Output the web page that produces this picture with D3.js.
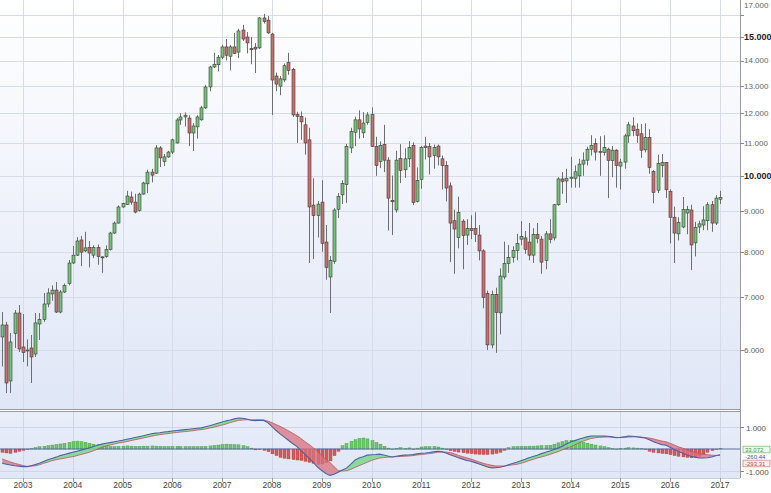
<!DOCTYPE html>
<html><head><meta charset="utf-8">
<script src="https://cdn.jsdelivr.net/npm/d3@7"></script>
<style>body{margin:0;background:#fff}svg{display:block;font-family:"Liberation Sans",Arial,sans-serif}</style>
</head><body><svg id="c" width="771" height="493"></svg>
<script>
const startMonth = "2002-08";
const open = [6233,6456,5480,6300,6686,6053,5990,6035,5930,6475,
6560,6865,7070,7150,6705,7110,7290,7740,7920,8280,
8020,8100,7920,8100,7880,7890,8050,8450,8700,9120,
9190,9390,9250,9030,9470,9760,10100,10070,10840,10420,
10560,10710,11000,11765,11870,11830,11325,11530,11770,12190,
12960,13740,13830,14140,14570,14180,14570,14350,15310,15000,
14500,14560,14530,15860,15760,15130,13380,12990,13230,13920,
13640,11950,11880,11600,11100,9170,8890,9250,8230,7430,
7780,9060,9450,9740,10840,11350,11770,11330,11680,11950,
10890,10420,10950,10460,9300,9040,10510,10170,10500,10920,
9270,9880,10900,10880,10600,10900,10500,10300,9700,8760,
8340,8750,8400,8560,8560,8400,8020,7080,6090,7060,
6690,7430,7730,7870,8030,8300,8330,8230,7920,8420,
8300,7800,8430,8330,9180,9900,9840,9920,9920,9990,
10340,10460,10800,10980,10700,10700,10800,10450,10770,10280,
10400,11230,11560,11450,11300,10780,11180,10120,9580,10300,
10390,9550,8850,8430,8600,8960,9040,8210,8600,8650,
8760,9180,8700,9330];
const high = [6705,6515,6306,6745,6845,6667,6190,6270,6686,6686,
7090,7190,7250,7320,7150,7290,7810,8136,8350,8380,
8480,8256,8150,8170,7900,8150,8480,8740,9160,9230,
9560,9540,9480,9510,9820,10170,10200,10930,10900,10650,
10750,11140,11830,12000,12030,11930,11660,11930,12260,13030,
13790,14320,14230,14660,14910,14650,15180,15360,15540,15220,
15000,14740,15900,16050,15950,15180,13520,13380,13880,14320,
13700,12050,12060,11850,11500,9920,9280,9860,8650,7900,
9090,9500,9860,10970,11500,11880,12100,12040,12040,12210,
11200,11050,11600,10550,10000,10750,10960,10830,11060,11020,
10240,10900,11200,11000,10950,10950,10600,10430,9800,9050,
9400,8800,8800,8900,8980,8650,8060,7140,7140,7200,
7620,8240,8160,8130,8430,8750,8500,8700,8570,8700,
8380,8500,8800,9200,9950,10100,10200,10560,10300,10500,
10700,10880,11250,11150,11220,11250,10850,10900,10800,10500,
11300,11700,11860,11650,11630,11650,11450,10160,10630,10650,
10400,9600,9130,8850,9390,9150,9180,8730,8760,9140,
9250,9280,9440,9560];
const low = [5717,5290,5290,6036,5965,5793,5720,5448,5879,6179,
6515,6800,6930,6686,6680,7090,7250,7720,7900,7670,
7990,7640,7850,7700,7520,7860,8030,8430,8690,9100,
9180,9180,8950,9000,9460,9500,9800,10050,10250,10280,
10530,10650,10980,11600,11540,10900,10740,11140,11740,12150,
12800,13700,13560,14060,14000,13600,14270,14100,14830,14300,
13850,13500,14480,15600,15140,11940,12800,12650,13150,13430,
11870,11000,11100,10630,7740,7830,8340,8000,7370,6686,
7720,8830,9200,9230,10680,10900,11140,11160,11600,10870,
9990,10220,10100,8510,8400,8970,9780,9930,10250,9170,
9240,9620,10480,10030,10200,10300,9600,9270,7760,7500,
8080,7600,8160,8300,8230,7800,6780,6000,6030,5950,
6280,7380,7520,7750,7800,8150,7950,7800,7740,8200,
7500,7600,8200,8270,9150,9480,9230,9650,9650,9650,
9990,10300,10600,10450,9990,10600,9360,9950,9650,9600,
10200,11000,11220,11000,10530,10700,10050,9220,9500,9950,
9360,8200,7740,8270,8570,8420,7580,7890,8450,8520,
8520,8480,8650,9200];
const close = [6456,5448,6143,6686,6018,5955,6000,5879,6495,6560,
6865,7090,7150,6705,7110,7250,7740,7920,8256,7990,
8090,7970,8100,7890,7860,8050,8450,8700,9120,9210,
9417,9250,8985,9470,9783,10100,10010,10840,10530,10560,
10710,11100,11765,11870,11930,11325,11560,11870,12190,12957,
13740,13850,14140,14570,14220,14570,14300,15270,14910,14740,
14450,14480,15860,15700,15180,13225,13070,13270,13790,13600,
11940,11880,11700,11000,9120,8890,9195,8200,7640,7800,
9040,9410,9770,10890,11370,11770,11460,11660,11940,10890,
10300,10920,10460,9360,9260,10460,10150,10500,10850,9240,
9860,10850,10850,10560,10850,10560,10300,9640,8700,8550,
8980,8390,8560,8510,8420,8020,7000,6090,7060,6700,
7450,7730,7870,8030,8200,8360,8050,7920,8420,8320,
7760,8430,8290,9180,9900,9830,9920,9950,10110,10340,
10460,10800,10920,10710,10730,10850,10450,10770,10300,10400,
11230,11600,11400,11250,10770,11180,10240,9520,10360,10390,
9590,8850,8450,8720,9050,9050,8160,8590,8680,8780,
9180,8700,9360,9380];
const macd = [-650,-690,-730,-760,-780,-800,-800,-760,-710,-650,
-570,-490,-430,-370,-300,-250,-200,-150,-100,-50,
0,50,110,170,220,260,290,330,360,400,
440,480,520,560,600,650,690,720,740,770,
790,820,840,860,880,900,920,940,960,1010,
1060,1110,1170,1230,1280,1320,1370,1410,1400,1360,
1310,1290,1310,1300,1200,1030,840,690,540,400,
250,120,-60,-250,-420,-620,-820,-980,-1120,-1200,
-1150,-1060,-950,-870,-700,-510,-410,-350,-280,-260,
-250,-235,-270,-320,-360,-330,-300,-280,-270,-250,
-220,-190,-180,-160,-130,-100,-120,-180,-260,-330,
-400,-460,-520,-560,-620,-680,-750,-820,-860,-850,
-830,-780,-720,-660,-600,-530,-470,-400,-340,-280,
-210,-150,-90,-20,40,130,230,320,380,440,
500,550,590,590,590,585,580,550,510,530,
560,590,580,560,530,500,420,330,260,200,
170,80,-20,-110,-180,-260,-330,-370,-410,-410,
-400,-360,-310,-260.44];
const signal = [-450,-520,-590,-650,-700,-750,-790,-780,-760,-720,
-650,-600,-530,-490,-450,-420,-380,-350,-300,-250,
-200,-150,-80,0,70,130,180,230,270,300,
340,380,420,460,500,540,580,620,650,680,
700,730,750,770,790,810,830,860,880,910,
950,990,1040,1090,1140,1200,1250,1300,1320,1330,
1330,1330,1325,1320,1270,1200,1110,1030,930,830,
720,610,480,330,200,50,-100,-300,-460,-600,
-800,-980,-1000,-990,-930,-840,-760,-680,-600,-520,
-460,-410,-390,-370,-360,-350,-340,-330,-320,-300,
-270,-250,-230,-210,-180,-150,-140,-140,-160,-220,
-290,-350,-400,-460,-520,-590,-650,-700,-740,-770,
-770,-770,-750,-720,-700,-650,-590,-530,-470,-410,
-360,-310,-250,-180,-120,-40,40,100,190,270,
350,420,480,510,530,540,545,540,530,520,
520,540,550,550,540,520,500,460,410,360,
330,260,180,100,40,-30,-100,-160,-200,-240,
-260,-280,-290,-293.31];
const hist = [-150,-180,-200,-150,-100,-60,-30,20,60,100,
120,150,180,200,230,260,300,340,360,330,
300,260,220,200,180,150,120,110,120,130,
140,130,120,120,130,130,140,130,120,110,
110,120,120,110,110,100,110,100,110,120,
140,160,180,200,220,210,200,190,150,100,
40,-40,-20,-60,-120,-220,-300,-380,-420,-450,
-480,-500,-520,-560,-600,-650,-700,-680,-620,-540,
-300,-100,150,250,350,420,480,500,460,380,
300,220,120,40,0,30,60,20,50,-10,
40,90,100,100,110,90,40,-30,-80,-110,
-140,-170,-190,-210,-230,-240,-250,-250,-230,-200,
-150,-60,60,100,110,120,120,130,130,140,
150,160,170,220,280,330,380,400,380,350,
300,260,220,180,140,100,60,20,0,20,
40,60,50,40,20,-20,-100,-150,-180,-200,
-220,-260,-300,-330,-360,-380,-400,-380,-330,-250,
-150,-70,-20,33.072];
const years = [2003,2004,2005,2006,2007,2008,2009,2010,2011,2012,2013,2014,2015,2016,2017];
const priceTicks = [6000,7000,8000,9000,10000,11000,12000,13000,14000,15000,16000,17000];
const priceLabelTicks = [6000,7000,8000,9000,10000,11000,12000,13000,14000,15000,17000];
const majorPriceTicks = [10000,15000];
const macdTicks = [1000,-1000];

const loc = d3.formatLocale({decimal:",",thousands:".",grouping:[3],currency:["",""],minus:"-"});
const fmtPriceLbl = v => loc.format(",")(v);
const locDot = d3.formatLocale({decimal:".",thousands:",",grouping:[3],currency:["",""],minus:"-"});
const fmtTag = locDot.format(".5");

const svg = d3.select("#c");
const plotR = 740, mainTop = 0, mainBot = 409, macdTop = 412, macdBot = 478;

const parse = d3.timeParse("%Y-%m");
const t0 = parse(startMonth);
const dates = d3.timeMonth.range(t0, d3.timeMonth.offset(t0, close.length));

const x = d3.scaleTime().domain([new Date(2003,0,1), new Date(2017,0,1)]).range([23,720]);
const y = d3.scaleLog().domain([6000,15000]).range([350,37]);
const ym = d3.scaleLinear().domain([-1000,1000]).range([471,427]);

const defs = svg.append("defs");
const g1 = defs.append("linearGradient").attr("id","bgMain").attr("x1",0).attr("y1",0).attr("x2",0).attr("y2",1);
g1.append("stop").attr("offset","0%").attr("stop-color","#ffffff");
g1.append("stop").attr("offset","100%").attr("stop-color","#dfe6f6");
const g2 = defs.append("linearGradient").attr("id","bgMacd").attr("x1",0).attr("y1",0).attr("x2",0).attr("y2",1);
g2.append("stop").attr("offset","0%").attr("stop-color","#e9eef9");
g2.append("stop").attr("offset","100%").attr("stop-color","#dfe6f5");
defs.append("clipPath").attr("id","clipMain").append("rect").attr("x",0).attr("y",mainTop).attr("width",plotR).attr("height",mainBot-mainTop);
defs.append("clipPath").attr("id","clipMacd").append("rect").attr("x",0).attr("y",macdTop).attr("width",plotR).attr("height",macdBot-macdTop);

const areaAbove = d3.area().x((d,i)=>x(dates[i])).y0(macdTop-50).y1((d)=>ym(d));
const areaBelow = d3.area().x((d,i)=>x(dates[i])).y0(macdBot+50).y1((d)=>ym(d));
defs.append("clipPath").attr("id","clipAbove").append("path").attr("d", areaAbove(signal));
defs.append("clipPath").attr("id","clipBelow").append("path").attr("d", areaBelow(signal));

svg.append("rect").attr("x",0).attr("y",0).attr("width",771).attr("height",493).attr("fill","#ffffff");
svg.append("rect").attr("x",0).attr("y",mainTop).attr("width",plotR).attr("height",mainBot-mainTop).attr("fill","url(#bgMain)");
svg.append("rect").attr("x",0).attr("y",macdTop).attr("width",plotR).attr("height",macdBot-macdTop).attr("fill","url(#bgMacd)");

const gm = svg.append("g").attr("clip-path","url(#clipMain)");
gm.selectAll("line.h").data(priceTicks).join("line")
  .attr("x1",0).attr("x2",plotR).attr("y1",d=>Math.round(y(d))+0.5).attr("y2",d=>Math.round(y(d))+0.5)
  .attr("stroke","#d6dcea").attr("stroke-width",1);
gm.selectAll("line.v").data(years).join("line")
  .attr("x1",d=>Math.round(x(new Date(d,0,1)))+0.5).attr("x2",d=>Math.round(x(new Date(d,0,1)))+0.5)
  .attr("y1",mainTop).attr("y2",mainBot).attr("stroke","#d6dcea");

const gmc = svg.append("g").attr("clip-path","url(#clipMacd)");
gmc.selectAll("line.v").data(years).join("line")
  .attr("x1",d=>Math.round(x(new Date(d,0,1)))+0.5).attr("x2",d=>Math.round(x(new Date(d,0,1)))+0.5)
  .attr("y1",macdTop).attr("y2",macdBot).attr("stroke","#cfd7e7");
gmc.selectAll("line.h").data(macdTicks).join("line")
  .attr("x1",0).attr("x2",plotR).attr("y1",d=>Math.round(ym(d))+0.5).attr("y2",d=>Math.round(ym(d))+0.5)
  .attr("stroke","#cfd7e7");

const cg = gm.append("g");
const idx = d3.range(close.length);
cg.selectAll("line.w").data(idx).join("line")
  .attr("x1",i=>Math.round(x(dates[i]))+0.5).attr("x2",i=>Math.round(x(dates[i]))+0.5)
  .attr("y1",i=>y(high[i])).attr("y2",i=>y(low[i]))
  .attr("stroke","#6e6e6e").attr("stroke-width",1);
cg.selectAll("rect.b").data(idx).join("rect")
  .attr("x",i=>Math.round(x(dates[i]))-1)
  .attr("width",3)
  .attr("y",i=>y(Math.max(open[i],close[i])))
  .attr("height",i=>Math.max(1,Math.abs(y(open[i])-y(close[i]))))
  .attr("fill",i=>close[i]>=open[i]?"#74c476":"#c9706c")
  .attr("stroke","#3b3b3b").attr("stroke-width",0.6);

const mg = gmc.append("g");
mg.selectAll("rect.h").data(idx).join("rect")
  .attr("x",i=>Math.round(x(dates[i]))-1)
  .attr("width",3)
  .attr("y",i=>Math.min(ym(0),ym(hist[i])))
  .attr("height",i=>Math.max(0.5,Math.abs(ym(hist[i])-ym(0))))
  .attr("fill",i=>hist[i]>=0?"#6cc86a":"#d65a5a")
  .attr("stroke",i=>hist[i]>=0?"#3f9a3f":"#a83a3a").attr("stroke-width",0.4);
mg.append("line").attr("x1",0).attr("x2",plotR).attr("y1",ym(0)).attr("y2",ym(0))
  .attr("stroke","#5a6fa3").attr("stroke-width",1);
const band = d3.area().x((d,i)=>x(dates[i])).y0((d,i)=>ym(signal[i])).y1((d,i)=>ym(macd[i]));
mg.append("path").attr("d",band(macd)).attr("fill","#78d88a").attr("fill-opacity",0.85).attr("clip-path","url(#clipAbove)");
mg.append("path").attr("d",band(macd)).attr("fill","#d9707c").attr("fill-opacity",0.75).attr("clip-path","url(#clipBelow)");
const line = arr => d3.line().x((d,i)=>x(dates[i])).y(d=>ym(d))(arr);
mg.append("path").attr("d",line(signal)).attr("fill","none").attr("stroke","#c0505e").attr("stroke-width",0.8);
mg.append("path").attr("d",line(macd)).attr("fill","none").attr("stroke","#4a62a8").attr("stroke-width",1.1);

svg.append("line").attr("x1",0).attr("x2",plotR).attr("y1",mainBot+0.5).attr("y2",mainBot+0.5).attr("stroke","#9a9a9a");
svg.append("line").attr("x1",0).attr("x2",plotR).attr("y1",macdTop-0.5).attr("y2",macdTop-0.5).attr("stroke","#9a9a9a");
svg.append("line").attr("x1",0).attr("x2",plotR).attr("y1",macdBot+0.5).attr("y2",macdBot+0.5).attr("stroke","#c8cfdc");
svg.append("line").attr("x1",plotR+0.5).attr("x2",plotR+0.5).attr("y1",0).attr("y2",macdBot).attr("stroke","#9a9a9a");

const ax = svg.append("g");
ax.selectAll("line.t").data(priceTicks).join("line")
  .attr("x1",plotR).attr("x2",plotR+4).attr("y1",d=>Math.round(y(d))+0.5).attr("y2",d=>Math.round(y(d))+0.5).attr("stroke","#8a8a8a");
ax.selectAll("text.p").data(priceLabelTicks).join("text").attr("class","p")
  .attr("x",plotR+4).attr("y",d=>Math.max(5,y(d))).attr("dy","0.35em")
  .attr("font-size",d=>majorPriceTicks.includes(d)?9:8)
  .attr("font-weight",d=>majorPriceTicks.includes(d)?"bold":"normal")
  .attr("fill",d=>majorPriceTicks.includes(d)?"#222":"#666")
  .text(d=>fmtPriceLbl(d));

ax.selectAll("line.m").data(macdTicks).join("line")
  .attr("x1",plotR).attr("x2",plotR+4).attr("y1",d=>Math.round(ym(d))+0.5).attr("y2",d=>Math.round(ym(d))+0.5).attr("stroke","#8a8a8a");
ax.selectAll("text.m").data(macdTicks).join("text").attr("class","m")
  .attr("x",plotR+6).attr("y",d=>ym(d)+1).attr("dy","0.35em")
  .attr("font-size",8).attr("fill","#555")
  .text(d=>fmtPriceLbl(d));

const last = close.length-1;
const tags = [
  {v:hist[last], y:449.5, stroke:"#7cbf7c", fill:"#eef8ee", col:"#3f9a3f", box:true},
  {v:macd[last], y:456.5, stroke:"none", fill:"none", col:"#3a55a5", box:false},
  {v:signal[last], y:463.5, stroke:"#d08a8a", fill:"#fbeeee", col:"#c04848", box:true}
];
const tg = svg.append("g");
tags.forEach(t=>{
  if(t.box) tg.append("rect").attr("x",plotR+3).attr("y",t.y-3.3).attr("width",27).attr("height",6.6)
    .attr("fill",t.fill).attr("stroke",t.stroke).attr("stroke-width",0.8);
  tg.append("text").attr("x",plotR+5).attr("y",t.y).attr("dy","0.35em").attr("font-size",6)
    .attr("fill",t.col).text(fmtTag(t.v));
});

const xa = svg.append("g");
xa.selectAll("line").data(years).join("line")
  .attr("x1",d=>Math.round(x(new Date(d,0,1)))+0.5).attr("x2",d=>Math.round(x(new Date(d,0,1)))+0.5)
  .attr("y1",macdBot).attr("y2",macdBot+4).attr("stroke","#9a9a9a");
xa.selectAll("text").data(years).join("text")
  .attr("x",d=>x(new Date(d,0,1))).attr("y",488).attr("text-anchor","middle")
  .attr("font-size",8.5).attr("fill","#444").text(d=>d);
</script></body></html>
